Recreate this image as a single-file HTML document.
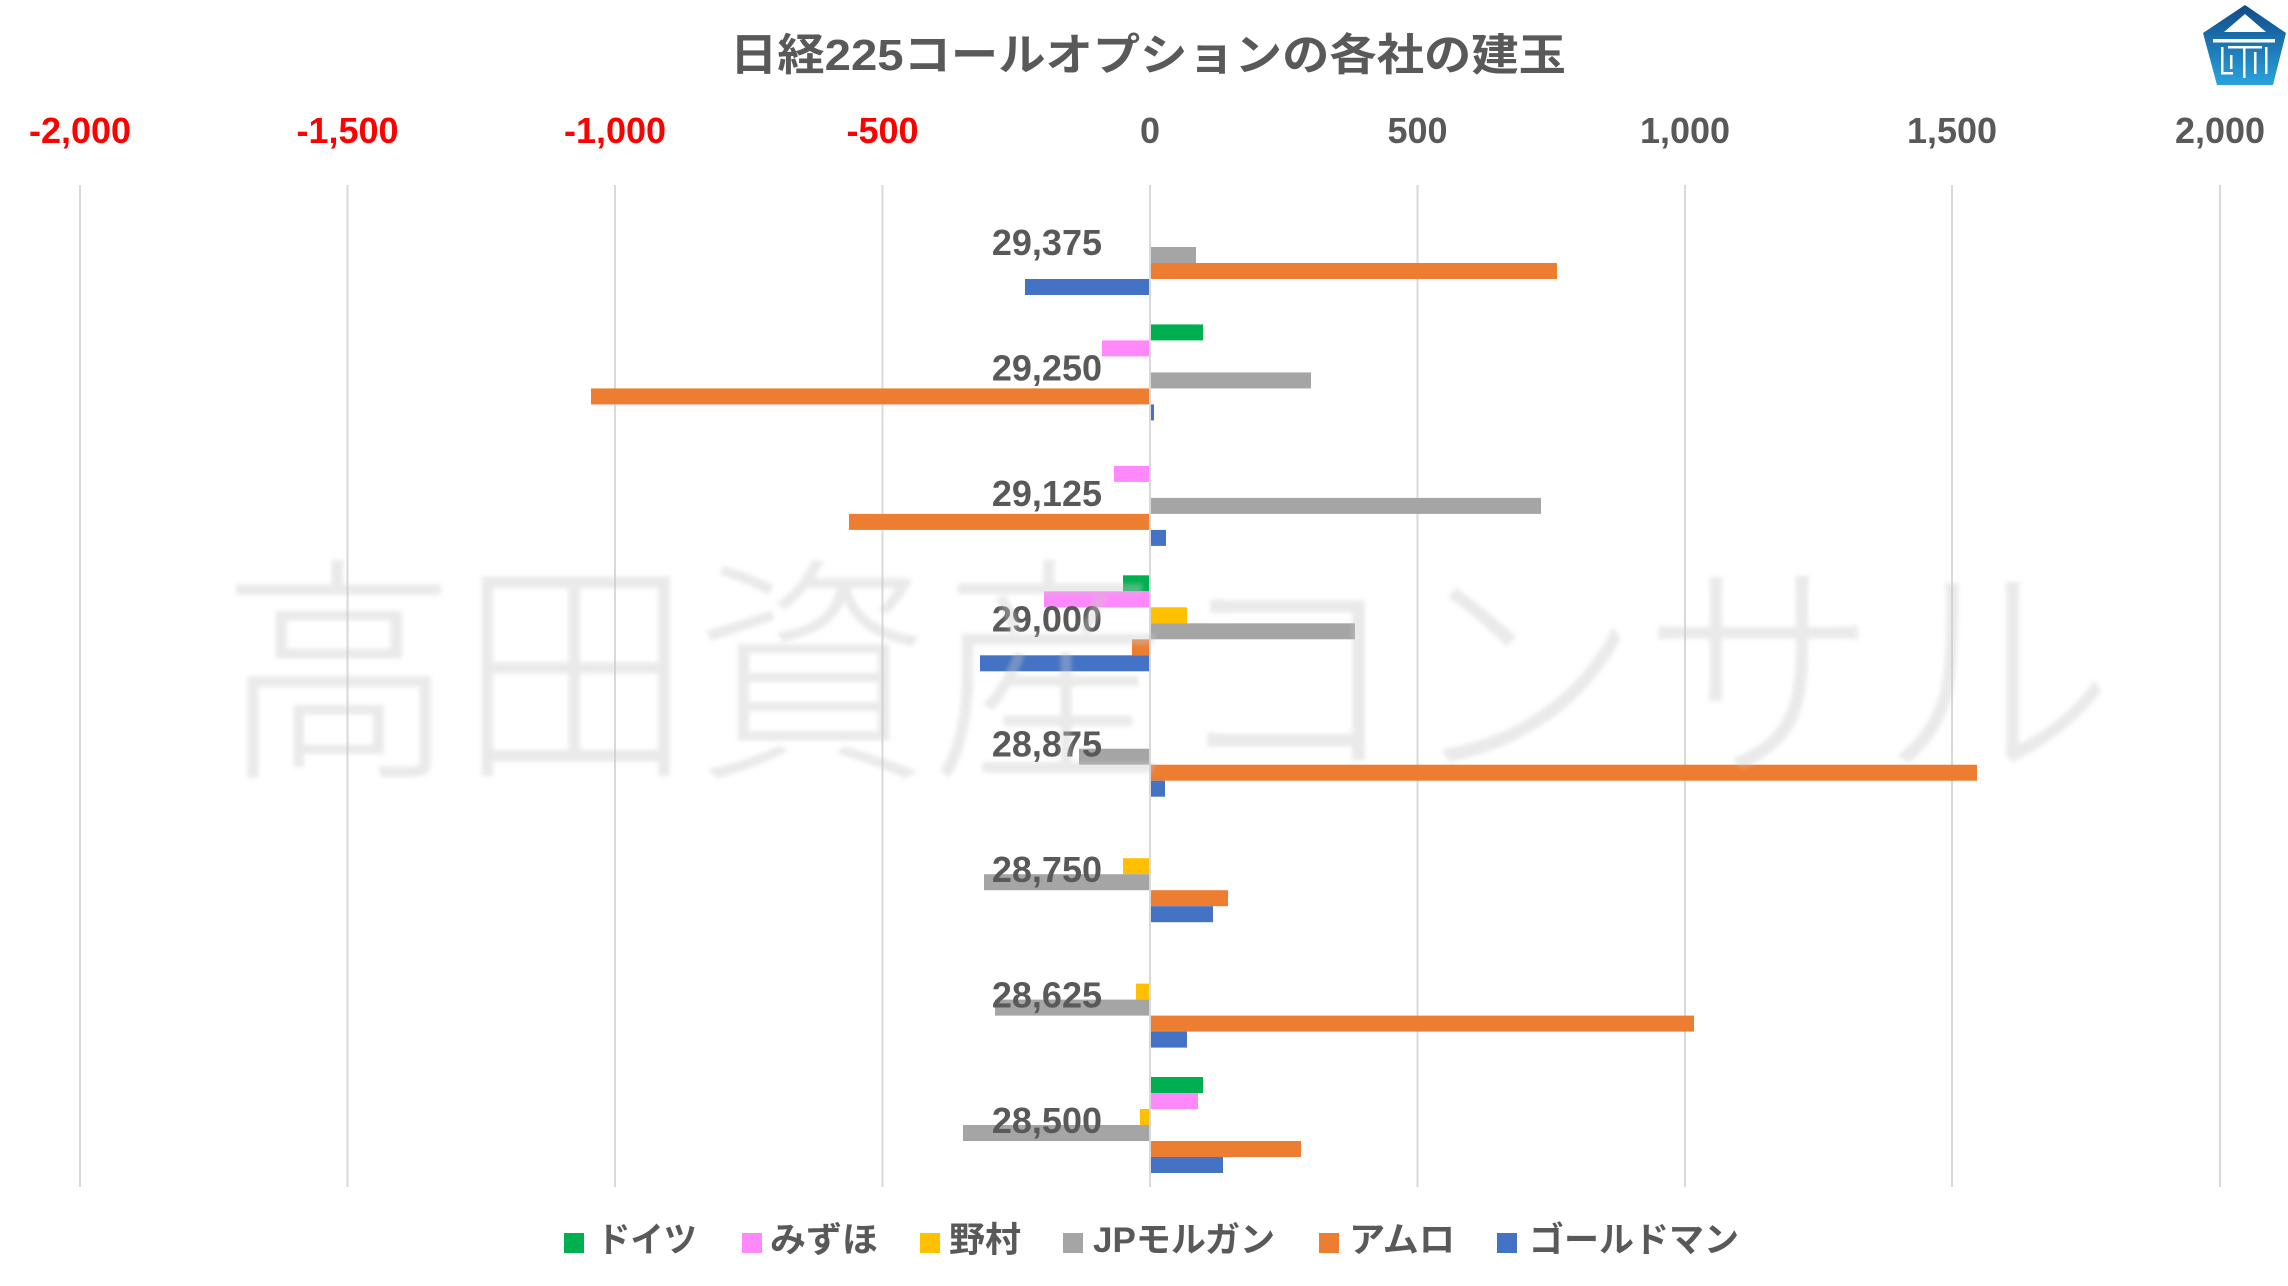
<!DOCTYPE html>
<html>
<head>
<meta charset="utf-8">
<style>
  html,body{margin:0;padding:0;background:#fff;}
  svg{display:block;}
  .t{font-family:"Liberation Sans","Noto Sans CJK JP",sans-serif;font-weight:bold;fill:#595959;}
  .j{font-family:"Liberation Sans","Noto Sans CJK JP",sans-serif;font-weight:bold;fill:#595959;}
</style>
</head>
<body>
<svg width="2288" height="1286" viewBox="0 0 2288 1286" xmlns="http://www.w3.org/2000/svg">
  <defs>
    <linearGradient id="lg" x1="0" y1="0" x2="0" y2="1">
      <stop offset="0" stop-color="#0f4a88"/>
      <stop offset="1" stop-color="#2aa2dd"/>
    </linearGradient>
    <filter id="blur" x="-5%" y="-5%" width="110%" height="110%">
      <feGaussianBlur stdDeviation="2"/>
    </filter>
  </defs>
  <rect width="2288" height="1286" fill="#fff"/>

  <!-- Title -->
  <text class="j" x="730" y="70" font-size="44" textLength="836" lengthAdjust="spacingAndGlyphs">日経225コールオプションの各社の建玉</text>

  <!-- Logo -->
  <polygon points="2245,5 2203,33 2217,85 2273,85 2286,33" fill="url(#lg)"/>
  <polygon points="2245,14 2224,32 2266,32" fill="#fff"/>
  <rect x="2213" y="39" width="62" height="3.5" fill="#fff"/>
  <rect x="2228" y="46" width="34" height="2.5" fill="#fff"/>
  <rect x="2221" y="47" width="2.5" height="27" fill="#fff"/>
  <rect x="2221" y="72" width="12" height="2.5" fill="#fff"/>
  <rect x="2243" y="46" width="2.5" height="32" fill="#fff"/>
  <rect x="2254" y="52" width="2.5" height="22" fill="#fff"/>
  <rect x="2265" y="47" width="2.5" height="27" fill="#fff"/>
  <rect x="2230" y="55" width="2.5" height="14" fill="#fff"/>

  <!-- Tick labels -->
  <g font-family="'Liberation Sans',sans-serif" font-weight="bold" font-size="36" text-anchor="middle">
    <text x="80" y="143" fill="#ff0000">-2,000</text>
    <text x="347.5" y="143" fill="#ff0000">-1,500</text>
    <text x="615" y="143" fill="#ff0000">-1,000</text>
    <text x="882.5" y="143" fill="#ff0000">-500</text>
    <text x="1150" y="143" fill="#595959">0</text>
    <text x="1417.5" y="143" fill="#595959">500</text>
    <text x="1685" y="143" fill="#595959">1,000</text>
    <text x="1952" y="143" fill="#595959">1,500</text>
    <text x="2220" y="143" fill="#595959">2,000</text>
  </g>

  <!-- Gridlines -->
  <g stroke="#d9d9d9" stroke-width="2">
    <line x1="80" y1="185" x2="80" y2="1187"/>
    <line x1="347.5" y1="185" x2="347.5" y2="1187"/>
    <line x1="615" y1="185" x2="615" y2="1187"/>
    <line x1="882.5" y1="185" x2="882.5" y2="1187"/>
    <line x1="1150" y1="185" x2="1150" y2="1187"/>
    <line x1="1417.5" y1="185" x2="1417.5" y2="1187"/>
    <line x1="1685" y1="185" x2="1685" y2="1187"/>
    <line x1="1952" y1="185" x2="1952" y2="1187"/>
    <line x1="2220" y1="185" x2="2220" y2="1187"/>
  </g>

  <!-- Bars -->
  <!-- 29,375 -->
  <rect x="1151" y="247" width="45" height="16" fill="#a5a5a5"/>
  <rect x="1151" y="263" width="406" height="16" fill="#ed7d31"/>
  <rect x="1025" y="279" width="124" height="16" fill="#4472c4"/>
  <!-- 29,250 -->
  <rect x="1151" y="324.4" width="52" height="16" fill="#00b050"/>
  <rect x="1102" y="340.4" width="47" height="16" fill="#ff89fa"/>
  <rect x="1151" y="372.4" width="160" height="16" fill="#a5a5a5"/>
  <rect x="591" y="388.4" width="558" height="16" fill="#ed7d31"/>
  <rect x="1151" y="404.4" width="3" height="16" fill="#4472c4"/>
  <!-- 29,125 -->
  <rect x="1114" y="465.9" width="35" height="16" fill="#ff89fa"/>
  <rect x="1151" y="497.9" width="390" height="16" fill="#a5a5a5"/>
  <rect x="849" y="513.9" width="300" height="16" fill="#ed7d31"/>
  <rect x="1151" y="529.9" width="15" height="16" fill="#4472c4"/>
  <!-- 29,000 -->
  <rect x="1123" y="575.3" width="26" height="16" fill="#00b050"/>
  <rect x="1044" y="591.3" width="105" height="16" fill="#ff89fa"/>
  <rect x="1151" y="607.3" width="36" height="16" fill="#ffc000"/>
  <rect x="1151" y="623.3" width="204" height="16" fill="#a5a5a5"/>
  <rect x="1132" y="639.3" width="17" height="16" fill="#ed7d31"/>
  <rect x="980" y="655.3" width="169" height="16" fill="#4472c4"/>
  <!-- 28,875 -->
  <rect x="1079" y="748.7" width="70" height="16" fill="#a5a5a5"/>
  <rect x="1151" y="764.7" width="826" height="16" fill="#ed7d31"/>
  <rect x="1151" y="780.7" width="14" height="16" fill="#4472c4"/>
  <!-- 28,750 -->
  <rect x="1123" y="858.2" width="26" height="16" fill="#ffc000"/>
  <rect x="984" y="874.2" width="165" height="16" fill="#a5a5a5"/>
  <rect x="1151" y="890.2" width="77" height="16" fill="#ed7d31"/>
  <rect x="1151" y="906.2" width="62" height="16" fill="#4472c4"/>
  <!-- 28,625 -->
  <rect x="1136" y="983.6" width="13" height="16" fill="#ffc000"/>
  <rect x="995" y="999.6" width="154" height="16" fill="#a5a5a5"/>
  <rect x="1151" y="1015.6" width="543" height="16" fill="#ed7d31"/>
  <rect x="1151" y="1031.6" width="36" height="16" fill="#4472c4"/>
  <!-- 28,500 -->
  <rect x="1151" y="1077" width="52" height="16" fill="#00b050"/>
  <rect x="1151" y="1093" width="47" height="16" fill="#ff89fa"/>
  <rect x="1140" y="1109" width="9" height="16" fill="#ffc000"/>
  <rect x="963" y="1125" width="186" height="16" fill="#a5a5a5"/>
  <rect x="1151" y="1141" width="150" height="16" fill="#ed7d31"/>
  <rect x="1151" y="1157" width="72" height="16" fill="#4472c4"/>

  <!-- Category labels -->
  <g font-family="'Liberation Sans',sans-serif" font-weight="bold" font-size="36" fill="#595959" text-anchor="end">
    <text x="1102" y="255">29,375</text>
    <text x="1102" y="380.4">29,250</text>
    <text x="1102" y="505.9">29,125</text>
    <text x="1102" y="631.3">29,000</text>
    <text x="1102" y="756.7">28,875</text>
    <text x="1102" y="882.2">28,750</text>
    <text x="1102" y="1007.6">28,625</text>
    <text x="1102" y="1133">28,500</text>
  </g>

  <!-- Watermark -->
  <text x="220" y="760" font-size="240" textLength="1895" lengthAdjust="spacingAndGlyphs" font-family="'Noto Sans CJK JP','Noto Sans CJK SC',sans-serif" font-weight="300" fill="#c8c8c8" fill-opacity="0.38" filter="url(#blur)">高田資産コンサル</text>

  <!-- Legend -->
  <g font-size="35">
    <rect x="564" y="1233" width="20" height="20" fill="#00b050"/>
    <text class="j" x="597" y="1252" textLength="100" lengthAdjust="spacingAndGlyphs">ドイツ</text>
    <rect x="742" y="1233" width="20" height="20" fill="#ff89fa"/>
    <text class="j" x="770" y="1252" textLength="108" lengthAdjust="spacingAndGlyphs">みずほ</text>
    <rect x="920" y="1233" width="20" height="20" fill="#ffc000"/>
    <text class="j" x="949" y="1252" textLength="72" lengthAdjust="spacingAndGlyphs">野村</text>
    <rect x="1063" y="1233" width="20" height="20" fill="#a5a5a5"/>
    <text class="j" x="1093" y="1252" textLength="182" lengthAdjust="spacingAndGlyphs">JPモルガン</text>
    <rect x="1319" y="1233" width="20" height="20" fill="#ed7d31"/>
    <text class="j" x="1349" y="1252" textLength="106" lengthAdjust="spacingAndGlyphs">アムロ</text>
    <rect x="1497" y="1233" width="20" height="20" fill="#4472c4"/>
    <text class="j" x="1529" y="1252" textLength="210" lengthAdjust="spacingAndGlyphs">ゴールドマン</text>
  </g>
</svg>
</body>
</html>
